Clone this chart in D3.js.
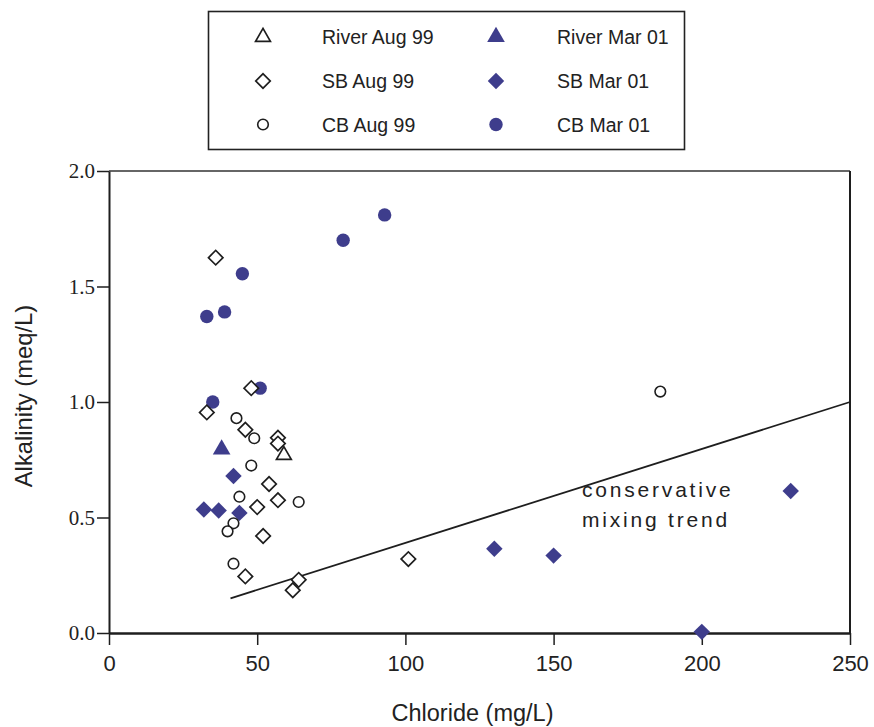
<!DOCTYPE html>
<html>
<head>
<meta charset="utf-8">
<script src="https://cdn.jsdelivr.net/npm/d3@7"></script>
<style>
  html, body { margin: 0; padding: 0; background: #fff; }
  svg { display: block; }
</style>
</head>
<body>
<svg id="chart" width="874" height="727"></svg>
<script>
// ---------- data ----------
const riverAug99 = [[59, 0.77]];
const riverMar01 = [[38, 0.795]];
const sbAug99 = [
  [36, 1.625], [48, 1.06], [33, 0.955], [46, 0.88], [57, 0.845], [57, 0.82],
  [54, 0.645], [57, 0.575], [50, 0.545], [52, 0.42], [46, 0.245], [64, 0.23],
  [62, 0.185], [101, 0.32]
];
const sbMar01 = [
  [42, 0.68], [32, 0.535], [37, 0.53], [44, 0.52], [130, 0.365], [150, 0.335],
  [230, 0.615], [200, 0.005]
];
const cbAug99 = [
  [43, 0.93], [49, 0.843], [48, 0.725], [44, 0.59], [64, 0.567], [42, 0.475],
  [40, 0.44], [42, 0.30], [186, 1.045]
];
const cbMar01 = [
  [33, 1.37], [39, 1.39], [45, 1.555], [79, 1.70], [93, 1.81], [35, 1.00], [51, 1.06]
];
const trendLine = [[41, 0.15], [250, 1.0]];
const xTicks = [0, 50, 100, 150, 200, 250];
const yTicks = [0.0, 0.5, 1.0, 1.5, 2.0];
const legendLabels = ["River Aug 99", "River Mar 01", "SB Aug 99", "SB Mar 01", "CB Aug 99", "CB Mar 01"];

(function () {
// ---------- setup ----------
const svg = d3.select("#chart");
const ink = "#1e1e1e";
const blue = "#3e3d8c";
const pL = 109, pR = 850, pT = 171, pB = 633;

const x = d3.scaleLinear().domain([0, 250]).range([pL, pR]);
const y = d3.scaleLinear().domain([0, 2]).range([pB, pT]);

// symbol makers
const sym = {
  triOpen:  d3.symbol().type(d3.symbolTriangle).size(95)(),
  triFill:  d3.symbol().type(d3.symbolTriangle).size(135)(),
  diaOpen:  d3.symbol().type(d3.symbolSquare).size(105)(),
  diaFill:  d3.symbol().type(d3.symbolSquare).size(135)(),
  cirOpen:  d3.symbol().type(d3.symbolCircle).size(Math.PI * 5.3 * 5.3)(),
  cirFill:  d3.symbol().type(d3.symbolCircle).size(Math.PI * 6.7 * 6.7)()
};
const styles = {
  riverAug: { d: sym.triOpen, rot: 0, fill: "#fff", stroke: ink, sw: 1.7 },
  riverMar: { d: sym.triFill, rot: 0, fill: blue, stroke: "none", sw: 0 },
  sbAug:    { d: sym.diaOpen, rot: 45, fill: "#fff", stroke: ink, sw: 1.7 },
  sbMar:    { d: sym.diaFill, rot: 45, fill: blue, stroke: "none", sw: 0 },
  cbAug:    { d: sym.cirOpen, rot: 0, fill: "#fff", stroke: ink, sw: 1.6 },
  cbMar:    { d: sym.cirFill, rot: 0, fill: blue, stroke: "none", sw: 0 }
};

// ---------- frame ----------
svg.append("line").attr("x1", pL).attr("x2", pR).attr("y1", pT).attr("y2", pT)
  .attr("stroke", "#333").attr("stroke-width", 1.5);
svg.append("line").attr("x1", pR).attr("x2", pR).attr("y1", pT).attr("y2", pB)
  .attr("stroke", ink).attr("stroke-width", 2);

// ---------- axes ----------
const xAxis = svg.append("g").attr("transform", `translate(0,${pB})`)
  .call(d3.axisBottom(x).tickValues(xTicks).tickFormat(d3.format("d"))
    .tickSize(12).tickPadding(10).tickSizeOuter(0));
xAxis.select(".domain").attr("stroke", ink).attr("stroke-width", 2.5);
xAxis.selectAll(".tick line").attr("stroke", ink).attr("stroke-width", 1.5);
xAxis.selectAll(".tick text").attr("fill", "#222")
  .style("font-family", "'Liberation Sans', Arial, sans-serif").style("font-size", "22px");

const yAxis = svg.append("g").attr("transform", `translate(${pL},0)`)
  .call(d3.axisLeft(y).tickValues(yTicks).tickFormat(d3.format(".1f"))
    .tickSize(12).tickPadding(2).tickSizeOuter(0));
yAxis.select(".domain").attr("stroke", ink).attr("stroke-width", 2);
yAxis.selectAll(".tick line").attr("stroke", ink).attr("stroke-width", 1.5);
yAxis.selectAll(".tick text").attr("fill", "#222")
  .style("font-family", "'Liberation Serif', 'Times New Roman', serif").style("font-size", "21px");

// axis titles
svg.append("text").attr("x", (pL + pR) / 2 - 7).attr("y", 721)
  .attr("text-anchor", "middle").attr("fill", "#222")
  .style("font-family", "'Liberation Sans', Arial, sans-serif").style("font-size", "23.5px")
  .text("Chloride (mg/L)");
svg.append("text").attr("transform", "translate(32,396) rotate(-90)")
  .attr("text-anchor", "middle").attr("fill", "#222")
  .style("font-family", "'Liberation Sans', Arial, sans-serif").style("font-size", "23.8px")
  .text("Alkalinity (meq/L)");

// ---------- trend line ----------
svg.append("path").datum(trendLine)
  .attr("d", d3.line().x(d => x(d[0])).y(d => y(d[1])))
  .attr("fill", "none").attr("stroke", ink).attr("stroke-width", 1.8);

const trendText = svg.append("text").attr("fill", "#222")
  .style("font-family", "'Liberation Sans', Arial, sans-serif").style("font-size", "21px")
  .style("letter-spacing", "2.8px");
trendText.append("tspan").attr("x", 582).attr("y", 497).text("conservative");
trendText.append("tspan").attr("x", 582).attr("y", 527).text("mixing trend");

// ---------- points ----------
function drawSeries(data, st) {
  svg.append("g").selectAll("path").data(data).join("path")
    .attr("d", st.d)
    .attr("transform", d => `translate(${x(d[0])},${y(d[1])}) rotate(${st.rot})`)
    .attr("fill", st.fill).attr("stroke", st.stroke).attr("stroke-width", st.sw);
}
drawSeries(cbMar01, styles.cbMar);
drawSeries(sbMar01, styles.sbMar);
drawSeries(riverMar01, styles.riverMar);
drawSeries(cbAug99, styles.cbAug);
drawSeries(sbAug99, styles.sbAug);
drawSeries(riverAug99, styles.riverAug);

// ---------- legend ----------
const lg = svg.append("g");
lg.append("rect").attr("x", 208.5).attr("y", 11.5).attr("width", 476).attr("height", 138)
  .attr("fill", "#fff").attr("stroke", "#222").attr("stroke-width", 1.6);
const legendStyles = [styles.riverAug, styles.riverMar, styles.sbAug, styles.sbMar, styles.cbAug, styles.cbMar];
const colSym = [263, 496], colText = [322, 557], rowY = [37, 81, 124.5];
legendLabels.forEach((lab, i) => {
  const c = i % 2, r = Math.floor(i / 2);
  const st = legendStyles[i];
  lg.append("path").attr("d", st.d)
    .attr("transform", `translate(${colSym[c]},${rowY[r]}) rotate(${st.rot})`)
    .attr("fill", st.fill).attr("stroke", st.stroke).attr("stroke-width", st.sw);
  lg.append("text").attr("x", colText[c]).attr("y", rowY[r] + 7)
    .attr("fill", "#222")
    .style("font-family", "'Liberation Sans', Arial, sans-serif").style("font-size", "19.5px")
    .text(lab);
});
})();
</script>
</body>
</html>
